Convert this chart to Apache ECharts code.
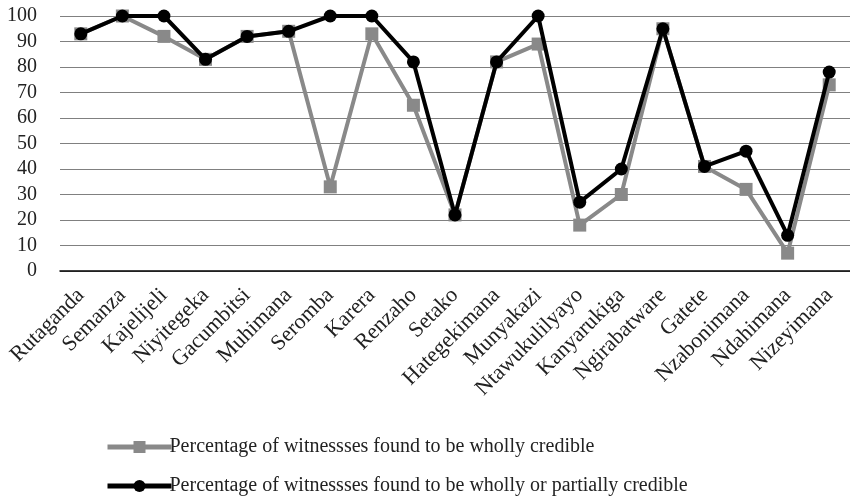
<!DOCTYPE html>
<html><head><meta charset="utf-8">
<script src="https://cdn.jsdelivr.net/npm/echarts@6/dist/echarts.min.js"></script>
<style>html,body{margin:0;padding:0;background:#fff}#c{width:850px;height:503px}</style>
</head><body><div id="c"></div>
<script>
const categories = ["Rutaganda","Semanza","Kajelijeli","Niyitegeka","Gacumbitsi","Muhimana","Seromba","Karera","Renzaho","Setako","Hategekimana","Munyakazi","Ntawukulilyayo","Kanyarukiga","Ngirabatware","Gatete","Nzabonimana","Ndahimana","Nizeyimana"];
const whollyCredible = [93,100,92,83,92,94,33,93,65,22,82,89,18,30,95,41,32,7,73];
const whollyOrPartially = [93,100,100,83,92,94,100,100,82,22,82,100,27,40,95,41,47,14,78];
const seriesNames = ["Percentage of witnessses found to be wholly credible","Percentage of witnessses found to be wholly or partially credible"];

const font = "'Liberation Serif', 'DejaVu Serif', serif";
const chart = echarts.init(document.getElementById('c'));
chart.setOption({
  animation: false,
  textStyle: {fontFamily: font},
  grid: {left: 60, right: 0, top: 16, bottom: 232},
  legend: {
    orient: 'vertical', left: 100, top: 432, itemWidth: 64, itemHeight: 15, itemGap: 19,
    lineStyle: {width: 5},
    textStyle: {fontFamily: font, fontSize: 20, color: '#222', padding: [0,0,0,-7]},
    data: seriesNames
  },
  xAxis: {
    type: 'category', data: categories, boundaryGap: true,
    axisLine: {lineStyle: {color: '#000', width: 1.5}},
    axisTick: {show: false},
    axisLabel: {rotate: 45, interval: 0, fontFamily: font, fontSize: 22, color: '#222', margin: 21}
  },
  yAxis: {
    type: 'value', min: 0, max: 100, interval: 10,
    axisLine: {show: false}, axisTick: {show: false},
    splitLine: {lineStyle: {color: '#808080', width: 1.2}},
    axisLabel: {fontFamily: font, fontSize: 20, color: '#222', margin: 23}
  },
  series: [
    {name: seriesNames[0], type: 'line', data: whollyCredible, symbol: 'rect', symbolSize: 13,
     lineStyle: {color: '#898989', width: 4}, itemStyle: {color: '#898989'}, z: 2},
    {name: seriesNames[1], type: 'line', data: whollyOrPartially, symbol: 'circle', symbolSize: 13,
     lineStyle: {color: '#000', width: 4}, itemStyle: {color: '#000'}, z: 3}
  ]
});
</script></body></html>
